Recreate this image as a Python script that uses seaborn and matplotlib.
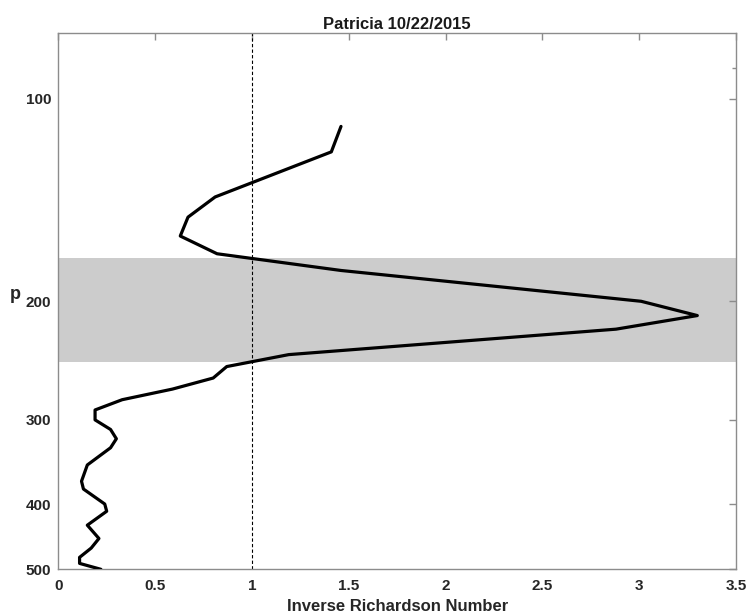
import matplotlib
matplotlib.use("Agg")
import matplotlib.pyplot as plt
import matplotlib.ticker as mticker
import seaborn as sns
import pandas as pd

# Data
pressure = [110, 120, 140, 150, 160, 170, 180, 200, 210, 220, 240, 250, 260, 270, 280,
            290, 300, 310, 320, 330, 350, 370, 380, 400, 410, 430, 450, 465, 480, 490, 500]
inv_ri = [1.46, 1.41, 0.81, 0.67, 0.63, 0.82, 1.46, 3.01, 3.30, 2.88, 1.19, 0.87, 0.80, 0.59, 0.33,
          0.19, 0.19, 0.27, 0.30, 0.27, 0.15, 0.12, 0.13, 0.24, 0.25, 0.15, 0.21, 0.17, 0.11, 0.11, 0.22]
band_p = [172.5, 246]
y_ticks = [100, 200, 300, 400, 500]
x_ticks = [0, 0.5, 1, 1.5, 2, 2.5, 3, 3.5]
title = "Patricia 10/22/2015"

sns.set_style("white")
plt.rcParams['font.family'] = ['Liberation Sans Narrow', 'Liberation Sans', 'DejaVu Sans']

df = pd.DataFrame({"ri": inv_ri, "p": pressure})

fig = plt.figure(figsize=(7.49, 6.14), dpi=100)
ax = fig.add_axes([0.0778, 0.0728, 0.9049, 0.873])

ax.axhspan(band_p[0], band_p[1], color="#cccccc", lw=0, zorder=0)
ax.axvline(1, color="k", lw=0.8, ls=(0, (3, 2)), zorder=1)
sns.lineplot(data=df, x="ri", y="p", sort=False, estimator=None, color="k", lw=2.3, ax=ax, zorder=3)

ax.set_yscale("log")
ax.set_ylim(500, 80)
ax.set_xlim(0, 3.5)
ax.yaxis.set_major_locator(mticker.FixedLocator(y_ticks))
ax.yaxis.set_major_formatter(mticker.FixedFormatter([str(v) for v in y_ticks]))
ax.yaxis.set_minor_locator(mticker.FixedLocator([90]))
ax.yaxis.set_minor_formatter(mticker.NullFormatter())
ax.set_xticks(x_ticks)
ax.set_xticklabels(["0", "0.5", "1", "1.5", "2", "2.5", "3", "3.5"])

edge = "#8c8c8c"
for s in ax.spines.values():
    s.set_color(edge)
    s.set_linewidth(1.0)
    s.set_visible(True)
ax.tick_params(which="both", direction="in", top=True, right=True, color=edge,
               labelcolor="#262626", width=1.0)
ax.tick_params(which="major", length=5, labelsize=11)
ax.tick_params(axis="x", which="major", pad=7)
ax.tick_params(axis="y", which="major", pad=5)
ax.tick_params(which="minor", length=3)
for lab in ax.get_xticklabels() + ax.get_yticklabels():
    lab.set_fontweight("bold")

ax.set_title(title, fontsize=12, fontweight="bold", color="#1a1a1a", pad=3)
ax.set_xlabel("Inverse Richardson Number", fontsize=12, fontweight="bold", color="#262626", labelpad=4)
ax.set_ylabel("p", fontsize=13, fontweight="bold", color="#262626", rotation=0)
ax.yaxis.set_label_coords(-0.064, 0.497)

fig.savefig("out.png", dpi=100)
